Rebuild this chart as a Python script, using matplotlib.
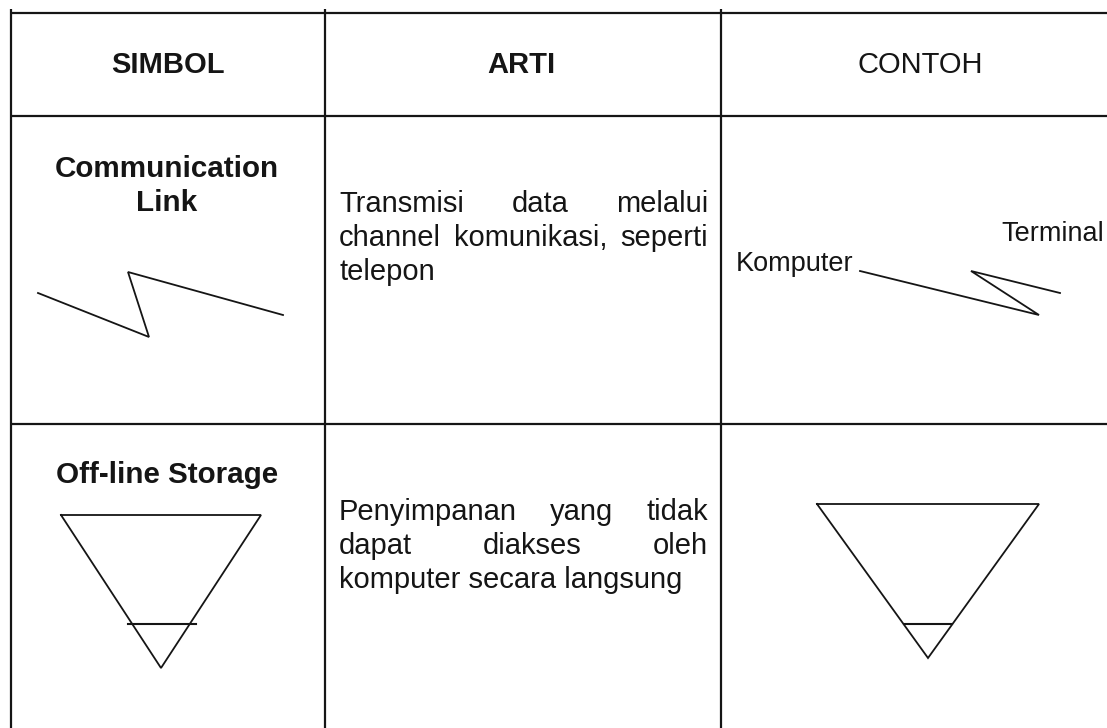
import matplotlib
matplotlib.use("Agg")
import matplotlib.pyplot as plt

plt.rcParams["font.family"] = ["Liberation Sans", "DejaVu Sans"]

W, H = 1107, 728

# table grid (pixel coordinates, y grows downward)
COL_EDGES = [11, 325, 721]
ROW_EDGES = [13, 116, 424]

HEADERS = ["SIMBOL", "ARTI", "CONTOH"]
HEADER_X = [168, 521, 920]
HEADER_WEIGHT = ["bold", "bold", "normal"]

SYMBOL_TITLES = [["Communication", "Link"], ["Off-line Storage"]]
SYMBOL_BASELINES = [[177, 211], [483]]

DESCRIPTIONS = [
    ["Transmisi data melalui", "channel komunikasi, seperti", "telepon"],
    ["Penyimpanan yang tidak", "dapat diakses oleh", "komputer secara langsung"],
]
DESC_BASELINES = [[212, 246, 280], [520, 554, 588]]
DESC_LEFT, DESC_RIGHT = 339, 708

# communication link symbols
LINK_X = [38, 149, 128, 283]
LINK_Y = [293, 337, 272, 315]
EX_LINK_X = [860, 1039, 971, 1060]
EX_LINK_Y = [271, 315, 271, 293]
EX_LABELS = ["Komputer", "Terminal"]

# off-line storage symbols
STORAGE_X = [61, 261, 161, 61]
STORAGE_Y = [515, 515, 668, 515]
STORAGE_BAR_X = [128, 196]
EX_STORAGE_X = [817, 1039, 928, 817]
EX_STORAGE_Y = [504, 504, 658, 504]
EX_STORAGE_BAR_X = [904, 952]
BAR_Y = 624

INK = "#151515"
BODY_SIZE = 21


def justified_line(ax, renderer, line, y, size):
    words = line.split()
    texts = [ax.text(0, y, w, fontsize=size, va="baseline", color=INK) for w in words]
    widths = [t.get_window_extent(renderer).width for t in texts]
    gap = (DESC_RIGHT - DESC_LEFT - sum(widths)) / (len(words) - 1)
    x = DESC_LEFT
    for t, w in zip(texts, widths):
        t.set_x(x)
        x += w + gap


fig = plt.figure(figsize=(W / 100, H / 100), dpi=100)
ax = fig.add_axes([0, 0, 1, 1])
ax.set_xlim(0, W)
ax.set_ylim(H, 0)
ax.axis("off")
renderer = fig.canvas.get_renderer()

# grid
for y in ROW_EDGES:
    ax.plot([COL_EDGES[0], W], [y, y], color=INK, lw=1.6, solid_capstyle="butt")
for x in COL_EDGES:
    ax.plot([x, x], [9, H], color=INK, lw=1.6, solid_capstyle="butt")

# header
for label, x, weight in zip(HEADERS, HEADER_X, HEADER_WEIGHT):
    ax.text(x, 73, label, fontsize=21, fontweight=weight, ha="center",
            va="baseline", color=INK)

# symbol titles
for lines, baselines in zip(SYMBOL_TITLES, SYMBOL_BASELINES):
    for line, y in zip(lines, baselines):
        ax.text(167, y, line, fontsize=21.3, fontweight="bold", ha="center",
                va="baseline", color=INK)

# descriptions, justified except the last line
for lines, baselines in zip(DESCRIPTIONS, DESC_BASELINES):
    for line, y in zip(lines[:-1], baselines[:-1]):
        justified_line(ax, renderer, line, y, BODY_SIZE)
    ax.text(DESC_LEFT, baselines[-1], lines[-1], fontsize=BODY_SIZE,
            va="baseline", color=INK)

# drawings
kw = dict(color=INK, lw=1.3, solid_joinstyle="miter")
ax.plot(LINK_X, LINK_Y, **kw)
ax.plot(EX_LINK_X, EX_LINK_Y, **kw)
ax.text(736, 271, EX_LABELS[0], fontsize=19.5, va="baseline", color=INK)
ax.text(1104, 241, EX_LABELS[1], fontsize=19.5, ha="right", va="baseline", color=INK)

ax.plot(STORAGE_X, STORAGE_Y, **kw)
ax.plot(STORAGE_BAR_X, [BAR_Y, BAR_Y], color=INK, lw=1.5)
ax.plot(EX_STORAGE_X, EX_STORAGE_Y, **kw)
ax.plot(EX_STORAGE_BAR_X, [BAR_Y, BAR_Y], color=INK, lw=1.5)

fig.savefig("out.png", dpi=100, facecolor="white")
